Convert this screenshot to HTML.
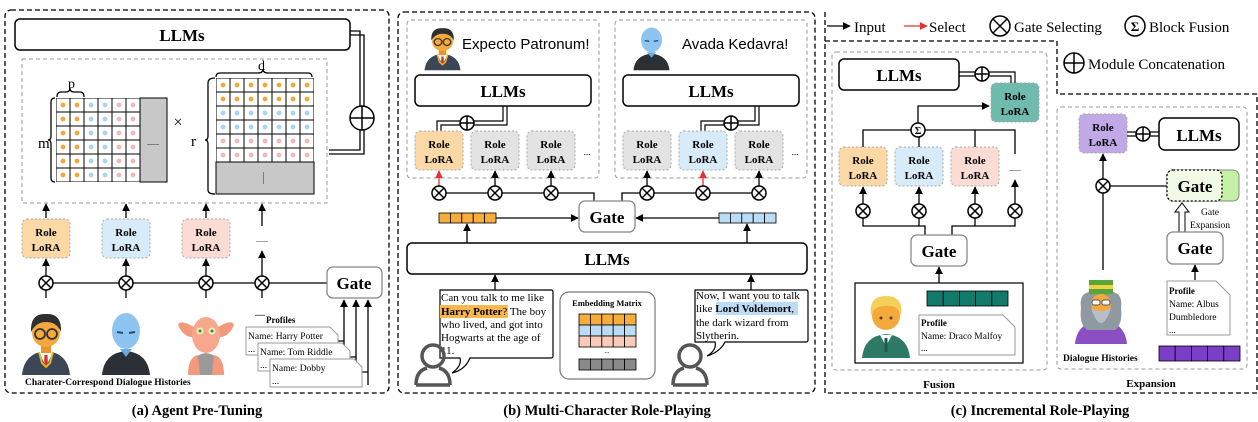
<!DOCTYPE html>
<html><head><meta charset="utf-8"><style>
html,body{margin:0;padding:0;background:#fff}
svg{display:block}
text{font-family:"Liberation Serif",serif}
.b{font-weight:bold}
</style></head><body>
<svg width="1258" height="422" viewBox="0 0 1258 422" xmlns="http://www.w3.org/2000/svg">
<defs>
<marker id="ar" viewBox="0 0 10 10" refX="9" refY="5" markerWidth="6" markerHeight="6" orient="auto"><path d="M0,0 L10,5 L0,10 z" fill="#000"/></marker>
<marker id="rr" viewBox="0 0 10 10" refX="9" refY="5" markerWidth="6" markerHeight="6" orient="auto"><path d="M0,0 L10,5 L0,10 z" fill="#e83030"/></marker>
<pattern id="po" width="14" height="14" patternUnits="userSpaceOnUse"><rect width="14" height="14" fill="#fff" stroke="#000" stroke-width="1"/><circle cx="7" cy="7" r="2.4" fill="#f2a93b"/></pattern>
<pattern id="pb" width="14" height="14" patternUnits="userSpaceOnUse"><rect width="14" height="14" fill="#fff" stroke="#000" stroke-width="1"/><circle cx="7" cy="7" r="2.4" fill="#a9d3f2"/></pattern>
<pattern id="pp" width="14" height="14" patternUnits="userSpaceOnUse"><rect width="14" height="14" fill="#fff" stroke="#000" stroke-width="1"/><circle cx="7" cy="7" r="2.4" fill="#f2b8b8"/></pattern>
<g id="ot"><circle r="7" fill="#fff" stroke="#000" stroke-width="1.5"/><path d="M-4.9,-4.9 L4.9,4.9 M-4.9,4.9 L4.9,-4.9" stroke="#000" stroke-width="1.5"/></g>
<g id="op"><circle r="7" fill="#fff" stroke="#000" stroke-width="1.5"/><path d="M-7,0 L7,0 M0,-7 L0,7" stroke="#000" stroke-width="1.5"/></g>
<g id="harry">
<path d="M2 70 Q4 48 26 46 Q48 48 50 70Z" fill="#3b4656"/>
<path d="M19 47 L26 62 L33 47Z" fill="#fff"/><path d="M24.5 50 L27.5 50 L28 62 L24 62Z" fill="#d62d2d"/>
<path d="M19 47 L22 58 L26 62 L30 58 L33 47" fill="none" stroke="#e6b422" stroke-width="2"/>
<rect x="21" y="38" width="10" height="10" fill="#e7952c"/>
<circle cx="26" cy="28" r="14" fill="#f4a93a"/>
<path d="M11 27 Q10 8 26 9 Q42 8 41 27 Q37 17 26 17 Q16 17 11 27Z" fill="#2f2f33"/>
<circle cx="20" cy="29" r="5" fill="none" stroke="#333" stroke-width="1.8"/><circle cx="32" cy="29" r="5" fill="none" stroke="#333" stroke-width="1.8"/>
</g>
<g id="vold">
<path d="M2 70 Q4 48 26 46 Q48 48 50 70Z" fill="#2b2f36"/>
<path d="M20 44 L26 52 L32 44Z" fill="#6aa8e0"/>
<ellipse cx="26" cy="26" rx="14" ry="18" fill="#8dc4f0"/>
<path d="M17 27 L23 28 M29 28 L35 27" stroke="#23507a" stroke-width="2"/>
</g>
<g id="dobby">
<path d="M8 70 Q10 50 26 48 Q42 50 44 70Z" fill="#9a9a9a"/>
<path d="M8 70 Q8 52 18 50 L20 70Z M44 70 Q44 52 34 50 L32 70Z" fill="#f39a7d"/>
<path d="M14 22 Q0 14 -2 20 Q4 34 16 32Z M38 22 Q52 14 54 20 Q48 34 36 32Z" fill="#f39a7d"/>
<ellipse cx="26" cy="30" rx="14" ry="18" fill="#f6a78c"/>
<circle cx="20" cy="26" r="3.5" fill="#e8f0c0"/><circle cx="32" cy="26" r="3.5" fill="#e8f0c0"/>
<circle cx="20" cy="26" r="1.5" fill="#3a8a2a"/><circle cx="32" cy="26" r="1.5" fill="#3a8a2a"/>
</g>
<g id="person"><circle cx="20" cy="13" r="11" fill="none" stroke="#555" stroke-width="3.5"/><path d="M3 42 Q3 28 14 25 M37 42 Q37 28 26 25 M3 42 L37 42" fill="none" stroke="#555" stroke-width="3.5"/></g>
</defs>

<!-- ========== (a) ========== -->
<rect x="5" y="10" width="384" height="383" rx="6" fill="none" stroke="#000" stroke-width="1.3" stroke-dasharray="5,3"/>
<rect x="15" y="19" width="335" height="31" rx="5" fill="#fff" stroke="#000" stroke-width="1.5"/>
<text x="182" y="41" font-size="17" class="b" text-anchor="middle">LLMs</text>
<rect x="22" y="59" width="305" height="144" fill="none" stroke="#999" stroke-dasharray="4,3"/>
<!-- left matrix -->
<rect x="56" y="98" width="28" height="84" fill="url(#po)"/>
<rect x="84" y="98" width="28" height="84" fill="url(#pb)"/>
<rect x="112" y="98" width="28" height="84" fill="url(#pp)"/>
<rect x="140" y="98" width="27" height="84" fill="#c8c8c8" stroke="#000"/>
<text x="153" y="145" font-size="8" text-anchor="middle">......</text>
<path d="M55 98 Q51 98 51 102 L51 136 Q51 140 48 140 Q51 140 51 144 L51 178 Q51 182 55 182" fill="none" stroke="#000" stroke-width="1.3"/>
<text x="38" y="148" font-size="15">m</text>
<path d="M57 97 Q57 92 61 92 L66 92 Q70 92 70 88 Q70 92 74 92 L80 92 Q84 92 84 97" fill="none" stroke="#000" stroke-width="1.3"/>
<text x="68" y="88" font-size="14">p</text>
<text x="178" y="127" font-size="16" text-anchor="middle">×</text>
<!-- right matrix -->
<g transform="translate(216,78)">
<rect x="0" y="0" width="98" height="28" fill="url(#po)"/>
<rect x="0" y="28" width="98" height="28" fill="url(#pb)"/>
<rect x="0" y="56" width="98" height="28" fill="url(#pp)"/>
<rect x="0" y="84" width="98" height="32" fill="#c8c8c8" stroke="#000"/>
<text x="49" y="102" font-size="8" text-anchor="middle" transform="rotate(90 49 100)">......</text>
</g>
<path d="M215 78 Q208 78 208 83 L208 136 Q208 140 205 140 Q208 140 208 144 L208 190 Q208 194 215 194" fill="none" stroke="#000" stroke-width="1.3"/>
<text x="191" y="146" font-size="15">r</text>
<path d="M216 77 Q216 73 220 73 L258 73 Q263 73 263 69 Q263 73 268 73 L308 73 Q312 73 312 77" fill="none" stroke="#000" stroke-width="1.3"/>
<text x="258" y="70" font-size="14">d</text>
<!-- concat -->
<path d="M350 31 L360 31 L360 150 L329 150 M350 35 L364 35 L364 154 L329 154" fill="none" stroke="#000" stroke-width="1.3"/>
<g transform="translate(362,118)"><circle r="12" fill="#fff" stroke="#000" stroke-width="1.5"/><path d="M-12,0 L12,0 M0,-12 L0,12" stroke="#000" stroke-width="1.5"/></g>
<!-- LoRA boxes -->
<rect x="22" y="219" width="48" height="39" rx="5" fill="#fbd9a6" stroke="#aaa" stroke-dasharray="2,2"/>
<rect x="102" y="219" width="48" height="39" rx="5" fill="#d8ebf9" stroke="#aaa" stroke-dasharray="2,2"/>
<rect x="182" y="219" width="48" height="39" rx="5" fill="#fbdcd4" stroke="#aaa" stroke-dasharray="2,2"/>
<g font-size="11" class="b" text-anchor="middle">
<text x="46" y="236">Role</text><text x="46" y="251">LoRA</text>
<text x="126" y="236">Role</text><text x="126" y="251">LoRA</text>
<text x="206" y="236">Role</text><text x="206" y="251">LoRA</text>
</g>
<text x="262" y="242" font-size="8" text-anchor="middle">......</text>
<g stroke="#000" stroke-width="1.3" marker-end="url(#ar)">
<line x1="46" y1="218" x2="46" y2="204"/><line x1="126" y1="218" x2="126" y2="204"/><line x1="206" y1="218" x2="206" y2="204"/><line x1="262" y1="226" x2="262" y2="204"/>
<line x1="46" y1="276" x2="46" y2="259"/><line x1="126" y1="276" x2="126" y2="259"/><line x1="206" y1="276" x2="206" y2="259"/><line x1="262" y1="276" x2="262" y2="251"/>
</g>
<g stroke="#000" stroke-width="1.3"><line x1="46" y1="283" x2="327" y2="283"/>
<line x1="46" y1="290" x2="46" y2="298"/><line x1="126" y1="290" x2="126" y2="298"/><line x1="206" y1="290" x2="206" y2="298"/><line x1="262" y1="290" x2="262" y2="298"/></g>
<use href="#ot" x="46" y="283"/><use href="#ot" x="126" y="283"/><use href="#ot" x="206" y="283"/><use href="#ot" x="262" y="283"/>
<rect x="327" y="267" width="55" height="31" rx="6" fill="#fff" stroke="#888" stroke-width="1.3"/>
<text x="354" y="289" font-size="17" class="b" text-anchor="middle">Gate</text>
<use href="#harry" transform="translate(20,305)"/>
<use href="#vold" transform="translate(100,305)"/>
<use href="#dobby" transform="translate(180,305)"/>
<text x="25" y="385" font-size="9.5" class="b">Charater-Correspond Dialogue Histories</text>
<text x="255" y="316" font-size="8" class="b">.....</text>
<text x="266" y="323" font-size="9" class="b">Profiles</text>
<g stroke="#000" stroke-width="1.3" marker-end="url(#ar)">
<path d="M344 357 L344 300" fill="none"/><path d="M356 370 L356 300" fill="none"/><path d="M368 385 L368 300" fill="none"/>
<path d="M338 341 L344 341 M350 357 L356 357 M362 372 L368 372" fill="none" marker-end="none"/>
</g>
<g font-size="9.5" stroke-width="1">
<path d="M246 327 L330 327 L338 335 L338 355 L246 355Z" fill="#fff" stroke="#999"/>
<text x="248" y="339">Name: Harry Potter</text><text x="248" y="352">...</text>
<path d="M258 343 L342 343 L350 351 L350 371 L258 371Z" fill="#fff" stroke="#999"/>
<text x="260" y="355">Name: Tom Riddle</text><text x="260" y="368">...</text>
<path d="M270 359 L354 359 L362 367 L362 387 L270 387Z" fill="#fff" stroke="#999"/>
<text x="272" y="371">Name: Dobby</text><text x="272" y="384">...</text>
</g>
<text x="197" y="415" font-size="14.5" class="b" text-anchor="middle">(a) Agent Pre-Tuning</text>

<!-- ========== (b) ========== -->
<rect x="398" y="12" width="417" height="381" rx="6" fill="none" stroke="#000" stroke-width="1.3" stroke-dasharray="5,3"/>
<rect x="407" y="20" width="192" height="158" rx="4" fill="none" stroke="#999" stroke-dasharray="4,3"/>
<rect x="615" y="20" width="192" height="158" rx="4" fill="none" stroke="#999" stroke-dasharray="4,3"/>
<use href="#harry" transform="translate(423,22) scale(0.75,0.69)"/>
<use href="#vold" transform="translate(632,22) scale(0.75,0.69)"/>
<text x="462" y="49" font-size="15" font-family="Liberation Sans,sans-serif" style="font-family:'Liberation Sans',sans-serif">Expecto Patronum!</text>
<text x="682" y="49" font-size="15" style="font-family:'Liberation Sans',sans-serif">Avada Kedavra!</text>
<rect x="415" y="75" width="176" height="31" rx="5" fill="#fff" stroke="#000" stroke-width="1.5"/>
<text x="503" y="97" font-size="17" class="b" text-anchor="middle">LLMs</text>
<rect x="623" y="75" width="176" height="31" rx="5" fill="#fff" stroke="#000" stroke-width="1.5"/>
<text x="711" y="97" font-size="17" class="b" text-anchor="middle">LLMs</text>
<path d="M437 131 L437 121 L503 121 L503 106 M441 131 L441 125 L507 125 L507 106" fill="none" stroke="#000" stroke-width="1.2"/>
<path d="M701 131 L701 121 L755 121 L755 106 M705 131 L705 125 L759 125 L759 106" fill="none" stroke="#000" stroke-width="1.2"/>
<use href="#op" x="467" y="123"/><use href="#op" x="731" y="123"/>
<g stroke="#aaa" stroke-dasharray="2,2">
<rect x="415" y="131" width="48" height="39" rx="5" fill="#fbd9a6"/>
<rect x="471" y="131" width="48" height="39" rx="5" fill="#e3e3e3"/>
<rect x="527" y="131" width="48" height="39" rx="5" fill="#e3e3e3"/>
<rect x="623" y="131" width="48" height="39" rx="5" fill="#e3e3e3"/>
<rect x="679" y="131" width="48" height="39" rx="5" fill="#d8ebf9"/>
<rect x="735" y="131" width="48" height="39" rx="5" fill="#e3e3e3"/>
</g>
<g font-size="11" class="b" text-anchor="middle">
<text x="439" y="148">Role</text><text x="439" y="163">LoRA</text>
<text x="495" y="148">Role</text><text x="495" y="163">LoRA</text>
<text x="551" y="148">Role</text><text x="551" y="163">LoRA</text>
<text x="647" y="148">Role</text><text x="647" y="163">LoRA</text>
<text x="703" y="148">Role</text><text x="703" y="163">LoRA</text>
<text x="759" y="148">Role</text><text x="759" y="163">LoRA</text>
</g>
<text x="587" y="155" font-size="9" text-anchor="middle">...</text>
<text x="795" y="155" font-size="9" text-anchor="middle">...</text>
<g stroke="#000" stroke-width="1.3" fill="none">
<path d="M439 193 L594 193 L594 201 M647 193 L622 193 L622 201 M647 193 L759 193"/>
</g>
<g stroke="#000" stroke-width="1.3" marker-end="url(#ar)">
<line x1="495" y1="186" x2="495" y2="171"/><line x1="551" y1="186" x2="551" y2="171"/>
<line x1="647" y1="186" x2="647" y2="171"/><line x1="759" y1="186" x2="759" y2="171"/>
</g>
<g stroke="#e83030" stroke-width="1.3" marker-end="url(#rr)">
<line x1="439" y1="186" x2="439" y2="171"/><line x1="703" y1="186" x2="703" y2="171"/>
</g>
<use href="#ot" x="439" y="193"/><use href="#ot" x="495" y="193"/><use href="#ot" x="551" y="193"/>
<use href="#ot" x="647" y="193"/><use href="#ot" x="703" y="193"/><use href="#ot" x="759" y="193"/>
<rect x="579" y="201" width="56" height="31" rx="6" fill="#fff" stroke="#888" stroke-width="1.3"/>
<text x="607" y="223" font-size="17" class="b" text-anchor="middle">Gate</text>
<g stroke="#000" stroke-width="0.8">
<rect x="439" y="213" width="11.4" height="10" fill="#f6ad3c"/><rect x="450.4" y="213" width="11.4" height="10" fill="#f6ad3c"/><rect x="461.8" y="213" width="11.4" height="10" fill="#f6ad3c"/><rect x="473.2" y="213" width="11.4" height="10" fill="#f6ad3c"/><rect x="484.6" y="213" width="11.4" height="10" fill="#f6ad3c"/>
<rect x="719" y="213" width="11.4" height="10" fill="#bcdcf6"/><rect x="730.4" y="213" width="11.4" height="10" fill="#bcdcf6"/><rect x="741.8" y="213" width="11.4" height="10" fill="#bcdcf6"/><rect x="753.2" y="213" width="11.4" height="10" fill="#bcdcf6"/><rect x="764.6" y="213" width="11.4" height="10" fill="#bcdcf6"/>
</g>
<g stroke="#000" stroke-width="1.3" marker-end="url(#ar)">
<line x1="496" y1="218" x2="578" y2="218"/><line x1="719" y1="218" x2="636" y2="218"/>
<line x1="467" y1="243" x2="467" y2="224"/><line x1="747" y1="243" x2="747" y2="224"/>
<line x1="495" y1="290" x2="495" y2="275"/><line x1="751" y1="290" x2="751" y2="275"/>
</g>
<rect x="407" y="243" width="400" height="31" rx="5" fill="#fff" stroke="#000" stroke-width="1.5"/>
<text x="607" y="265" font-size="17" class="b" text-anchor="middle">LLMs</text>
<!-- bubbles -->
<path d="M440 290 L551 290 Q553 290 553 292 L553 356 Q553 358 551 358 L470 358 Q465 370 452 373 Q462 366 460 358 L440 358Z" fill="#fff" stroke="#000" stroke-width="1.2"/>
<rect x="440" y="305" width="68" height="13" fill="#f7b850"/>
<g font-size="11">
<text x="441" y="301">Can you talk to me like</text>
<text x="441" y="315"><tspan class="b">Harry Potter</tspan>? The boy</text>
<text x="441" y="328">who lived, and got into</text>
<text x="441" y="341">Hogwarts at the age of</text>
<text x="441" y="354">11.</text>
</g>
<use href="#person" transform="translate(413,343)"/>
<path d="M695 290 L806 290 Q808 290 808 292 L808 340 Q808 342 806 342 L725 342 Q720 352 707 356 Q717 350 715 342 L695 342Z" fill="#fff" stroke="#000" stroke-width="1.2"/>
<rect x="716" y="302" width="82" height="13" fill="#bcdcf6"/>
<g font-size="11">
<text x="696" y="299">Now, I want you to talk</text>
<text x="696" y="312">like <tspan class="b">Lord Voldemort</tspan>,</text>
<text x="696" y="326">the dark wizard from</text>
<text x="696" y="339">Slytherin.</text>
</g>
<use href="#person" transform="translate(670,343)"/>
<rect x="560" y="292" width="95" height="87" rx="9" fill="#fff" stroke="#777" stroke-width="1.2"/>
<text x="607" y="306" font-size="8.5" class="b" text-anchor="middle">Embedding Matrix</text>
<g stroke="#000" stroke-width="0.8">
<rect x="579" y="314" width="11.4" height="11" fill="#f6ad3c"/><rect x="590.4" y="314" width="11.4" height="11" fill="#f6ad3c"/><rect x="601.8" y="314" width="11.4" height="11" fill="#f6ad3c"/><rect x="613.2" y="314" width="11.4" height="11" fill="#f6ad3c"/><rect x="624.6" y="314" width="11.4" height="11" fill="#f6ad3c"/>
<rect x="579" y="325" width="11.4" height="11" fill="#bcdcf6"/><rect x="590.4" y="325" width="11.4" height="11" fill="#bcdcf6"/><rect x="601.8" y="325" width="11.4" height="11" fill="#bcdcf6"/><rect x="613.2" y="325" width="11.4" height="11" fill="#bcdcf6"/><rect x="624.6" y="325" width="11.4" height="11" fill="#bcdcf6"/>
<rect x="579" y="336" width="11.4" height="11" fill="#f9cbb8"/><rect x="590.4" y="336" width="11.4" height="11" fill="#f9cbb8"/><rect x="601.8" y="336" width="11.4" height="11" fill="#f9cbb8"/><rect x="613.2" y="336" width="11.4" height="11" fill="#f9cbb8"/><rect x="624.6" y="336" width="11.4" height="11" fill="#f9cbb8"/>
<rect x="579" y="359" width="11.4" height="11" fill="#8a8a8a"/><rect x="590.4" y="359" width="11.4" height="11" fill="#8a8a8a"/><rect x="601.8" y="359" width="11.4" height="11" fill="#8a8a8a"/><rect x="613.2" y="359" width="11.4" height="11" fill="#8a8a8a"/><rect x="624.6" y="359" width="11.4" height="11" fill="#8a8a8a"/>
</g>
<text x="607" y="353" font-size="7" text-anchor="middle">...</text>
<text x="607" y="415" font-size="14.5" class="b" text-anchor="middle">(b) Multi-Character Role-Playing</text>

<!-- ========== (c) legend ========== -->
<line x1="827" y1="26" x2="850" y2="26" stroke="#000" stroke-width="1.3" marker-end="url(#ar)"/>
<text x="854" y="32" font-size="15">Input</text>
<line x1="904" y1="26" x2="927" y2="26" stroke="#e83030" stroke-width="1.3" marker-end="url(#rr)"/>
<text x="929" y="32" font-size="15">Select</text>
<g transform="translate(1000,26)"><circle r="10" fill="#fff" stroke="#000" stroke-width="1.5"/><path d="M-7,-7 L7,7 M-7,7 L7,-7" stroke="#000" stroke-width="1.5"/></g>
<text x="1014" y="32" font-size="15">Gate Selecting</text>
<g transform="translate(1135,26)"><circle r="10" fill="#fff" stroke="#000" stroke-width="1.5"/><text y="5" font-size="13" class="b" text-anchor="middle">Σ</text></g>
<text x="1149" y="32" font-size="15">Block Fusion</text>
<g transform="translate(1074,63)"><circle r="10" fill="#fff" stroke="#000" stroke-width="1.5"/><path d="M-10,0 L10,0 M0,-10 L0,10" stroke="#000" stroke-width="1.5"/></g>
<text x="1088" y="69" font-size="15">Module Concatenation</text>
<path d="M825 12 L825 393 L1257 393 L1257 94 L1057 94 L1057 41 L825 41" fill="none" stroke="#000" stroke-width="1.3" stroke-dasharray="5,3"/>
<!-- Fusion -->
<rect x="832" y="52" width="215" height="318" rx="4" fill="none" stroke="#999" stroke-dasharray="4,3"/>
<rect x="839" y="59" width="120" height="31" rx="5" fill="#fff" stroke="#000" stroke-width="1.5"/>
<text x="899" y="81" font-size="17" class="b" text-anchor="middle">LLMs</text>
<path d="M959 72 L1015 72 L1015 83 M959 76 L1011 76 L1011 83" fill="none" stroke="#000" stroke-width="1.2"/>
<use href="#op" x="982" y="74"/>
<rect x="991" y="83" width="48" height="39" rx="5" fill="#6fbcae" stroke="#aaa" stroke-dasharray="2,2"/>
<text x="1015" y="100" font-size="11" class="b" text-anchor="middle">Role</text><text x="1015" y="115" font-size="11" class="b" text-anchor="middle">LoRA</text>
<g stroke="#000" stroke-width="1.3" fill="none">
<path d="M918 123 L918 106 L989 106" marker-end="url(#ar)"/>
<path d="M863 147 L863 130 L1015 130 L1015 154"/>
<line x1="919" y1="130" x2="919" y2="147"/><line x1="975" y1="130" x2="975" y2="147"/>
</g>
<g transform="translate(918,130)"><circle r="7" fill="#fff" stroke="#000" stroke-width="1.5"/><text y="4" font-size="10" class="b" text-anchor="middle">Σ</text></g>
<g stroke="#aaa" stroke-dasharray="2,2">
<rect x="839" y="147" width="48" height="39" rx="5" fill="#fbd9a6"/>
<rect x="895" y="147" width="48" height="39" rx="5" fill="#d8ebf9"/>
<rect x="951" y="147" width="48" height="39" rx="5" fill="#fbdcd4"/>
</g>
<g font-size="11" class="b" text-anchor="middle">
<text x="863" y="164">Role</text><text x="863" y="179">LoRA</text>
<text x="919" y="164">Role</text><text x="919" y="179">LoRA</text>
<text x="975" y="164">Role</text><text x="975" y="179">LoRA</text>
</g>
<text x="1015" y="171" font-size="8" text-anchor="middle">......</text>
<g stroke="#000" stroke-width="1.3" marker-end="url(#ar)">
<line x1="863" y1="204" x2="863" y2="187"/><line x1="919" y1="204" x2="919" y2="187"/><line x1="975" y1="204" x2="975" y2="187"/><line x1="1015" y1="204" x2="1015" y2="180"/>
<line x1="939" y1="283" x2="939" y2="267"/>
</g>
<path d="M863 218 L863 226 L925 226 L925 235 M919 218 L919 226 M952 235 L952 226 L1015 226 L1015 218 M975 218 L975 226" fill="none" stroke="#000" stroke-width="1.3"/>
<use href="#ot" x="863" y="211"/><use href="#ot" x="919" y="211"/><use href="#ot" x="975" y="211"/><use href="#ot" x="1015" y="211"/>
<rect x="911" y="235" width="56" height="31" rx="6" fill="#fff" stroke="#888" stroke-width="1.3"/>
<text x="939" y="257" font-size="17" class="b" text-anchor="middle">Gate</text>
<rect x="855" y="283" width="168" height="80" fill="#fff" stroke="#000" stroke-width="1.2"/>
<g transform="translate(860,288)">
<path d="M2 70 Q4 48 26 46 Q48 48 50 70Z" fill="#2f7a67"/>
<path d="M20 47 L26 58 L32 47Z" fill="#fff"/><rect x="24.5" y="50" width="3" height="14" fill="#1f5a4a"/>
<circle cx="26" cy="28" r="14" fill="#f3a93c"/>
<path d="M11 28 Q8 8 26 8 Q44 8 41 28 Q38 16 24 18 Q14 18 11 28Z" fill="#f6cf5a"/>
<circle cx="21" cy="30" r="1.5" fill="#5a3a1a"/><circle cx="31" cy="30" r="1.5" fill="#5a3a1a"/>
</g>
<g stroke="#000" stroke-width="0.8" fill="#127a6a">
<rect x="927" y="291" width="16.2" height="15"/><rect x="943.2" y="291" width="16.2" height="15"/><rect x="959.4" y="291" width="16.2" height="15"/><rect x="975.6" y="291" width="16.2" height="15"/><rect x="991.8" y="291" width="16.2" height="15"/>
</g>
<path d="M919 315 L1003 315 L1015 327 L1015 355 L919 355Z" fill="#fff" stroke="#999"/>
<text x="921" y="326" font-size="9" class="b">Profile</text>
<text x="921" y="339" font-size="9.5">Name: Draco Malfoy</text>
<text x="921" y="351" font-size="9">...</text>
<text x="939" y="388" font-size="11" class="b" text-anchor="middle">Fusion</text>
<!-- Expansion -->
<rect x="1057" y="107" width="190" height="262" rx="4" fill="none" stroke="#999" stroke-dasharray="4,3"/>
<rect x="1079" y="114" width="48" height="39" rx="5" fill="#c1a8e6" stroke="#aaa" stroke-dasharray="2,2"/>
<text x="1103" y="131" font-size="11" class="b" text-anchor="middle">Role</text><text x="1103" y="146" font-size="11" class="b" text-anchor="middle">LoRA</text>
<path d="M1127 132 L1159 132 M1127 136 L1159 136" stroke="#000" stroke-width="1.2"/>
<use href="#op" x="1143" y="134"/>
<rect x="1159" y="118" width="80" height="32" rx="6" fill="#fff" stroke="#000" stroke-width="1.5"/>
<text x="1199" y="141" font-size="17" class="b" text-anchor="middle">LLMs</text>
<g stroke="#000" stroke-width="1.3">
<line x1="1103" y1="270" x2="1103" y2="193"/>
<line x1="1103" y1="179" x2="1103" y2="154" marker-end="url(#ar)"/>
<line x1="1110" y1="186" x2="1167" y2="186"/>
<line x1="1195" y1="280" x2="1195" y2="265" marker-end="url(#ar)"/>
</g>
<use href="#ot" x="1103" y="186"/>
<rect x="1167" y="170" width="72" height="31" rx="6" fill="#c6f0a4" stroke="#888"/>
<rect x="1167" y="170" width="55" height="31" rx="6" fill="#f0fae6" stroke="#000" stroke-width="1.3" stroke-dasharray="2,2"/>
<text x="1195" y="192" font-size="17" class="b" text-anchor="middle">Gate</text>
<path d="M1179 232 L1179 212 L1175 212 L1182 203 L1189 212 L1185 212 L1185 232" fill="#fff" stroke="#000" stroke-width="1"/>
<text x="1210" y="215" font-size="9.5" text-anchor="middle">Gate</text>
<text x="1210" y="228" font-size="9.5" text-anchor="middle">Expansion</text>
<rect x="1167" y="232" width="56" height="32" rx="6" fill="#fff" stroke="#888" stroke-width="1.3"/>
<text x="1195" y="254" font-size="17" class="b" text-anchor="middle">Gate</text>
<g transform="translate(1075,278)">
<path d="M0 66 Q2 44 26 42 Q50 44 52 66Z" fill="#8a4fc2"/>
<path d="M6 30 Q4 16 14 14 L38 14 Q48 16 46 30 Q48 46 40 52 L12 52 Q4 46 6 30Z" fill="#8e9aa0"/>
<rect x="14" y="2" width="24" height="14" fill="#58a63c"/><rect x="14" y="7" width="24" height="4" fill="#f1d33b"/>
<circle cx="26" cy="26" r="10" fill="#f3a93c"/>
<path d="M16 30 Q26 60 36 30 Q26 36 16 30Z" fill="#b7bfc4"/>
<rect x="17" y="22" width="8" height="5" rx="2" fill="#fff" stroke="#555"/><rect x="27" y="22" width="8" height="5" rx="2" fill="#fff" stroke="#555"/>
</g>
<text x="1063" y="361" font-size="9.5" class="b">Dialogue Histories</text>
<path d="M1167 281 L1216 281 L1230 295 L1230 335 L1167 335Z" fill="#fff" stroke="#999"/>
<text x="1169" y="294" font-size="9" class="b">Profile</text>
<text x="1169" y="307" font-size="9.5">Name: Albus</text>
<text x="1169" y="320" font-size="9.5">Dumbledore</text>
<text x="1169" y="333" font-size="9">...</text>
<g stroke="#000" stroke-width="0.8" fill="#7a3fc6">
<rect x="1159" y="346" width="16.2" height="15"/><rect x="1175.2" y="346" width="16.2" height="15"/><rect x="1191.4" y="346" width="16.2" height="15"/><rect x="1207.6" y="346" width="16.2" height="15"/><rect x="1223.8" y="346" width="16.2" height="15"/>
</g>
<text x="1151" y="387" font-size="11" class="b" text-anchor="middle">Expansion</text>
<text x="1040" y="415" font-size="14.5" class="b" text-anchor="middle">(c) Incremental Role-Playing</text>
</svg>
</body></html>
